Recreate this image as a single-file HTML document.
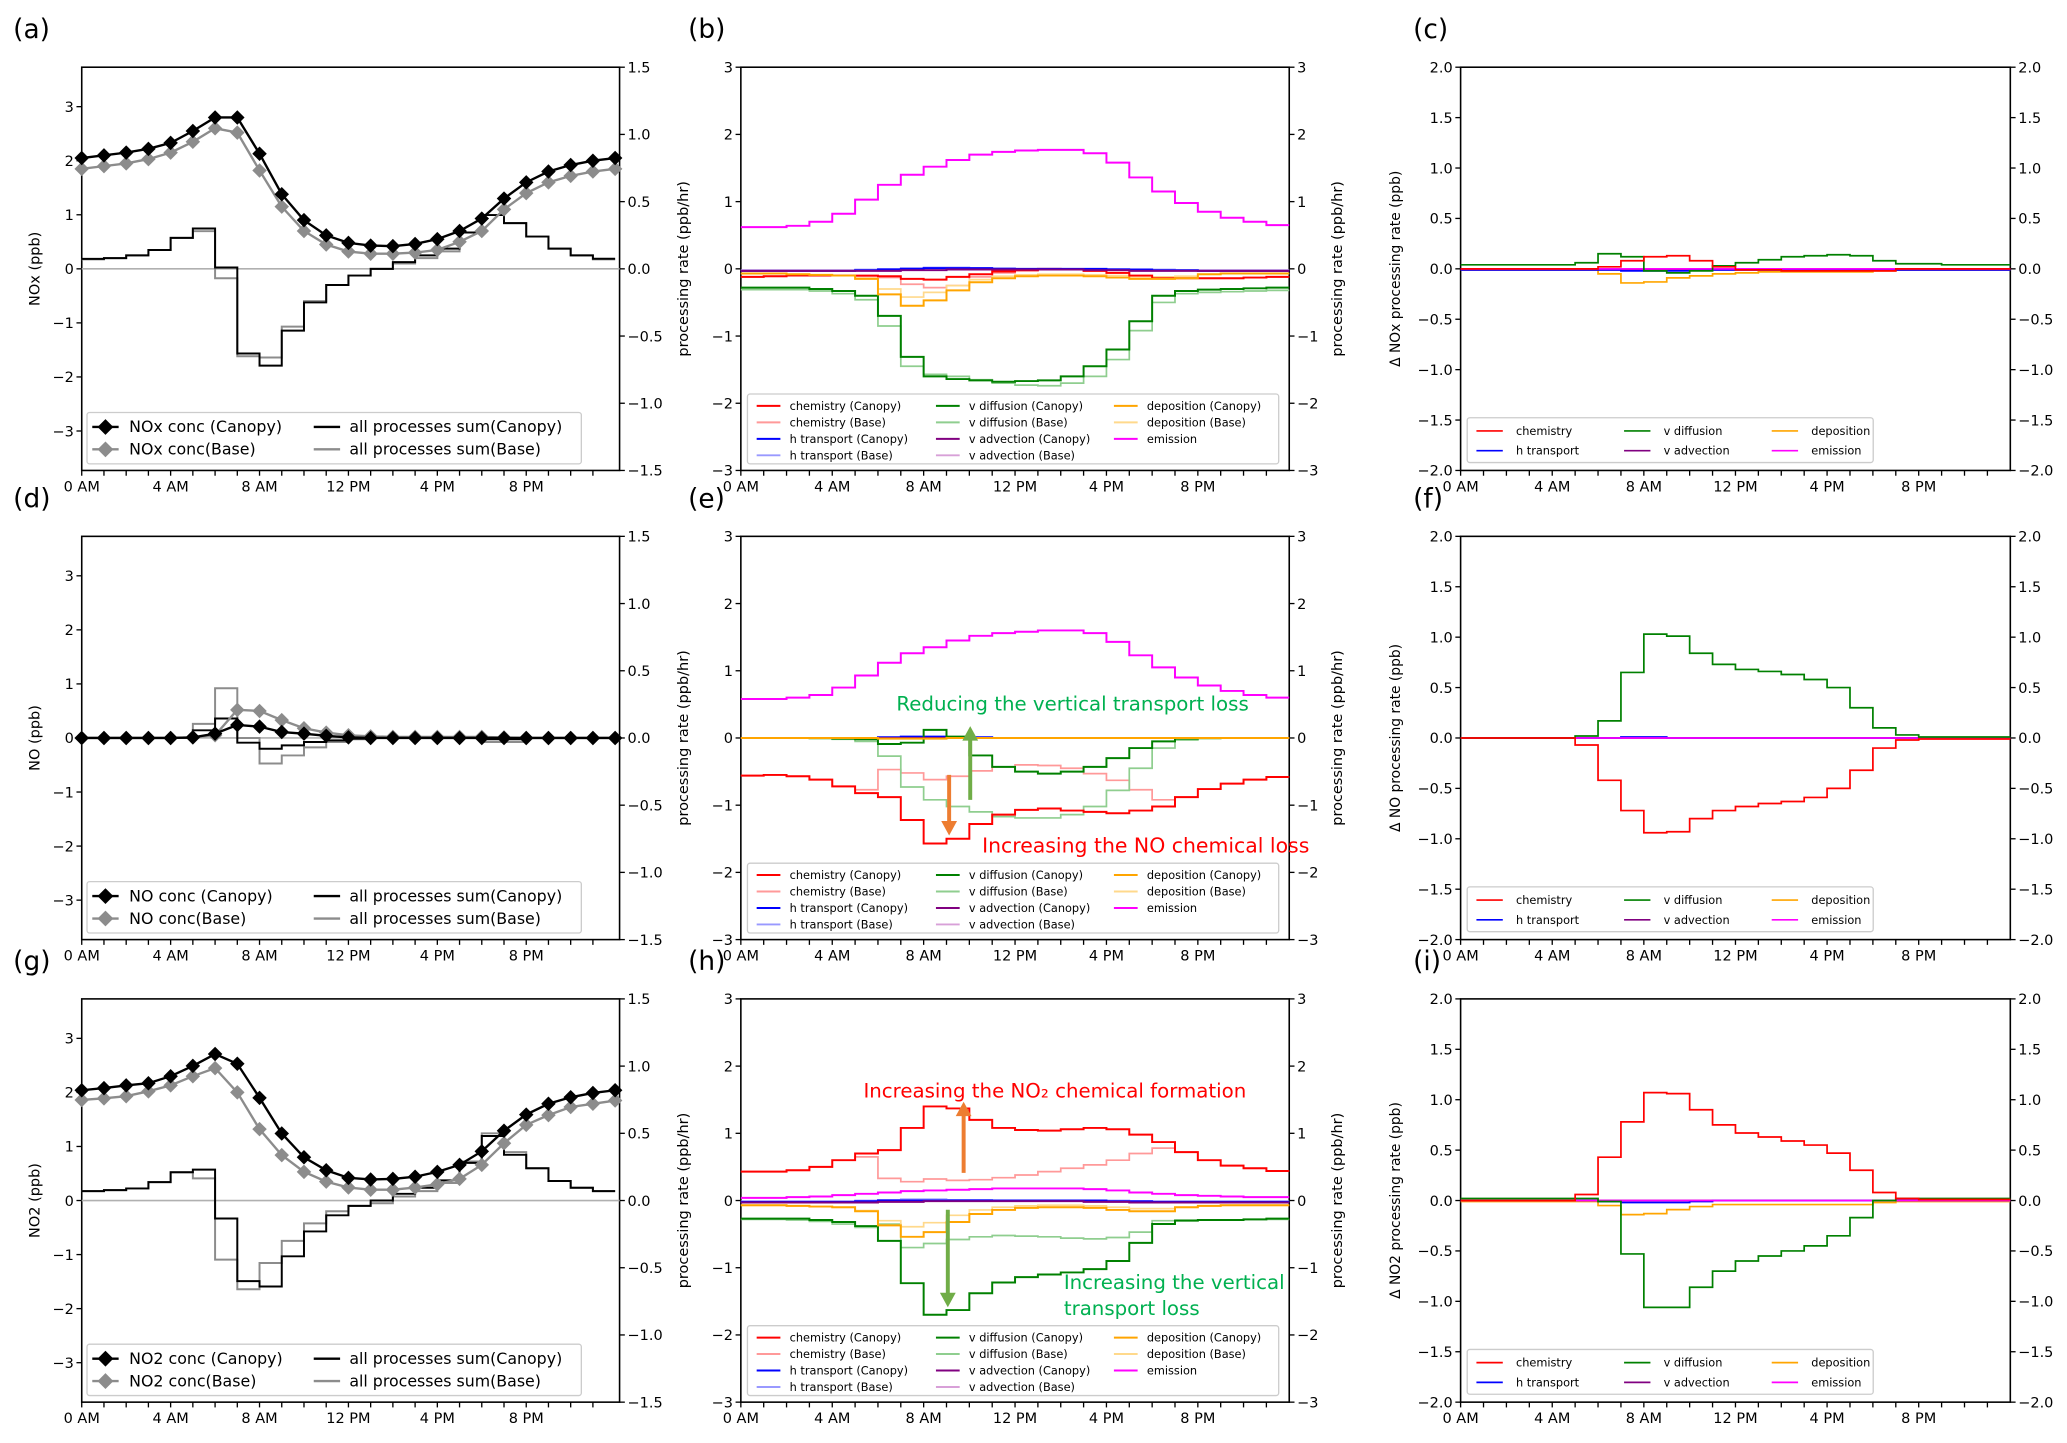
<!DOCTYPE html>
<html><head><meta charset="utf-8">
<style>
html,body{margin:0;padding:0;background:#fff;}
svg{display:block;}
text{font-family:"DejaVu Sans","Liberation Sans",sans-serif;}
</style></head>
<body>
<svg id="fig" xmlns="http://www.w3.org/2000/svg" width="2067" height="1443" viewBox="0 0 1568 1095" preserveAspectRatio="none"></svg>
<script>
// ---------- data ----------
const hourTicks = [0,4,8,12,16,20];
const hourTickLabels = ["0 AM","4 AM","8 AM","12 PM","4 PM","8 PM"];
// (a) NOx
const noxConcCanopy = [2.05,2.1,2.15,2.22,2.33,2.55,2.8,2.8,2.13,1.38,0.9,0.62,0.48,0.43,0.42,0.46,0.55,0.7,0.93,1.3,1.6,1.8,1.92,2.0,2.05];
const noxConcBase = [1.85,1.9,1.95,2.03,2.15,2.35,2.6,2.52,1.82,1.15,0.7,0.45,0.32,0.28,0.28,0.3,0.35,0.5,0.7,1.1,1.4,1.6,1.72,1.8,1.85];
const noxSumCanopy = [0.074,0.08,0.1,0.14,0.23,0.3,0.01,-0.63,-0.72,-0.46,-0.25,-0.12,-0.05,0.0,0.05,0.1,0.15,0.27,0.4,0.34,0.24,0.15,0.1,0.075];
const noxSumBase = [0.07,0.08,0.1,0.14,0.23,0.28,-0.07,-0.65,-0.66,-0.43,-0.24,-0.12,-0.05,0.0,0.04,0.08,0.13,0.27,0.4,0.34,0.24,0.15,0.1,0.07];
// (d) NO
const noConcCanopy = [0,0,0,0,0,0.01,0.08,0.24,0.21,0.11,0.08,0.04,0.01,0,0,0,0,0,0,0,0,0,0,0,0];
const noConcBase = [0,0,0,0,0,0.01,0.05,0.52,0.5,0.33,0.18,0.1,0.05,0.03,0.02,0.02,0.02,0.02,0.02,0.01,0,0,0,0,0];
const noSumCanopy = [0,0,0,0,0,0.057,0.145,-0.035,-0.08,-0.055,-0.03,-0.018,-0.005,0,0,0,0,0,-0.01,-0.01,0,0,0,0];
const noSumBase = [0,0,0,0,0,0.105,0.37,0.0,-0.19,-0.13,-0.07,-0.03,-0.01,0,0,0,0,0,-0.03,-0.03,0,0,0,0];
// (g) NO2
const no2ConcCanopy = [2.04,2.08,2.13,2.17,2.3,2.49,2.71,2.53,1.9,1.24,0.8,0.56,0.42,0.39,0.4,0.44,0.53,0.66,0.91,1.29,1.59,1.79,1.91,1.99,2.04];
const no2ConcBase = [1.86,1.89,1.93,2.02,2.13,2.3,2.45,2.0,1.32,0.84,0.53,0.35,0.24,0.2,0.2,0.24,0.3,0.4,0.66,1.06,1.4,1.58,1.73,1.79,1.85];
const no2SumCanopy = [0.07,0.077,0.09,0.137,0.21,0.23,-0.134,-0.6,-0.64,-0.415,-0.23,-0.11,-0.04,0,0.05,0.095,0.15,0.28,0.48,0.34,0.24,0.145,0.095,0.07];
const no2SumBase = [0.07,0.077,0.09,0.137,0.21,0.165,-0.44,-0.66,-0.465,-0.3,-0.17,-0.08,-0.04,-0.02,0.03,0.07,0.13,0.29,0.5,0.36,0.24,0.145,0.095,0.07];
// (b) NOx processes
const bChemC = [-0.12,-0.11,-0.1,-0.1,-0.1,-0.1,-0.11,-0.15,-0.16,-0.12,-0.08,-0.04,-0.02,0.0,-0.01,-0.03,-0.06,-0.1,-0.14,-0.14,-0.14,-0.14,-0.13,-0.12];
const bChemB = [-0.12,-0.11,-0.1,-0.1,-0.1,-0.11,-0.13,-0.23,-0.28,-0.25,-0.12,-0.06,-0.03,0.0,-0.01,-0.03,-0.06,-0.1,-0.14,-0.14,-0.14,-0.14,-0.13,-0.12];
const bHtrC = [-0.03,-0.03,-0.03,-0.03,-0.03,-0.02,-0.01,0.0,0.01,0.01,0.01,0.0,0.0,0.0,0.0,0.0,-0.01,-0.01,-0.02,-0.02,-0.03,-0.03,-0.03,-0.03];
const bHtrB = [-0.02,-0.02,-0.02,-0.02,-0.02,-0.01,0.0,0.01,0.02,0.02,0.01,0.01,0.0,0.0,0.0,0.0,0.0,-0.01,-0.01,-0.02,-0.02,-0.02,-0.02,-0.02];
const bVdiffC = [-0.28,-0.28,-0.28,-0.3,-0.33,-0.4,-0.7,-1.31,-1.6,-1.64,-1.66,-1.68,-1.67,-1.66,-1.6,-1.45,-1.2,-0.78,-0.4,-0.33,-0.31,-0.3,-0.29,-0.28];
const bVdiffB = [-0.31,-0.31,-0.31,-0.33,-0.37,-0.46,-0.85,-1.45,-1.57,-1.6,-1.65,-1.7,-1.73,-1.74,-1.7,-1.6,-1.35,-0.92,-0.5,-0.37,-0.35,-0.34,-0.33,-0.32];
const bVadvC = [-0.03,-0.03,-0.03,-0.03,-0.03,-0.03,-0.03,-0.02,-0.02,-0.01,-0.01,-0.01,-0.01,-0.01,-0.01,-0.02,-0.02,-0.03,-0.03,-0.03,-0.03,-0.03,-0.03,-0.03];
const bVadvB = [-0.02,-0.02,-0.02,-0.02,-0.02,-0.02,-0.02,-0.01,-0.01,-0.01,-0.01,-0.01,-0.01,-0.01,-0.01,-0.01,-0.02,-0.02,-0.02,-0.02,-0.02,-0.02,-0.02,-0.02];
const bDepC = [-0.07,-0.07,-0.08,-0.09,-0.1,-0.15,-0.38,-0.55,-0.47,-0.32,-0.2,-0.14,-0.11,-0.1,-0.1,-0.11,-0.13,-0.15,-0.15,-0.14,-0.08,-0.07,-0.07,-0.07];
const bDepB = [-0.07,-0.07,-0.08,-0.09,-0.1,-0.14,-0.3,-0.42,-0.35,-0.25,-0.16,-0.11,-0.09,-0.08,-0.08,-0.09,-0.1,-0.12,-0.12,-0.11,-0.08,-0.07,-0.07,-0.07];
const bEmis = [0.62,0.62,0.64,0.7,0.82,1.03,1.25,1.4,1.52,1.62,1.7,1.74,1.76,1.77,1.77,1.72,1.58,1.36,1.15,0.98,0.85,0.76,0.7,0.65];
// (e) NO processes
const eChemC = [-0.56,-0.55,-0.57,-0.62,-0.72,-0.82,-0.88,-1.22,-1.57,-1.5,-1.28,-1.14,-1.07,-1.05,-1.08,-1.1,-1.12,-1.08,-1.02,-0.88,-0.76,-0.68,-0.62,-0.58];
const eChemB = [-0.56,-0.55,-0.57,-0.62,-0.72,-0.77,-0.47,-0.52,-0.62,-0.57,-0.49,-0.43,-0.4,-0.41,-0.45,-0.53,-0.63,-0.77,-0.92,-0.88,-0.76,-0.68,-0.62,-0.58];
const eHtrC = [0,0,0,0,0,0,0.01,0.02,0.02,0.01,0.01,0,0,0,0,0,0,0,0,0,0,0,0,0];
const eHtrB = [0,0,0,0,0,0,0.01,0.01,0.01,0.01,0,0,0,0,0,0,0,0,0,0,0,0,0,0];
const eVdiffC = [0,0,0,0,-0.01,-0.02,-0.09,-0.07,0.12,0.02,-0.26,-0.43,-0.5,-0.53,-0.5,-0.43,-0.3,-0.15,-0.05,-0.01,0,0,0,0];
const eVdiffB = [0,0,0,-0.01,-0.02,-0.05,-0.27,-0.73,-0.92,-1.02,-1.1,-1.17,-1.19,-1.19,-1.14,-1.02,-0.78,-0.45,-0.15,-0.03,-0.01,0,0,0];
const eVadvC = [0,0,0,0,0,0,0,0,0,0,0,0,0,0,0,0,0,0,0,0,0,0,0,0];
const eVadvB = [0,0,0,0,0,0,0,0,0,0,0,0,0,0,0,0,0,0,0,0,0,0,0,0];
const eDepC = [0,0,0,0,0,0,-0.01,-0.01,-0.01,0,0,0,0,0,0,0,0,0,0,0,0,0,0,0];
const eDepB = [0,0,0,0,0,0,0,-0.01,0,0,0,0,0,0,0,0,0,0,0,0,0,0,0,0];
const eEmis = [0.58,0.58,0.6,0.64,0.75,0.93,1.12,1.26,1.35,1.45,1.52,1.56,1.58,1.6,1.6,1.56,1.43,1.23,1.05,0.9,0.78,0.7,0.64,0.6];
// (h) NO2 processes
const hChemC = [0.43,0.43,0.45,0.5,0.6,0.7,0.75,1.08,1.4,1.37,1.2,1.08,1.05,1.04,1.06,1.08,1.06,0.98,0.87,0.72,0.6,0.52,0.48,0.44];
const hChemB = [0.43,0.43,0.45,0.5,0.6,0.65,0.33,0.28,0.32,0.3,0.31,0.34,0.38,0.43,0.48,0.53,0.6,0.7,0.78,0.72,0.6,0.52,0.48,0.44];
const hHtrC = [-0.02,-0.02,-0.02,-0.02,-0.02,-0.01,0,0,0,0,0,0,0,0,0,0,-0.01,-0.01,-0.02,-0.02,-0.02,-0.02,-0.02,-0.02];
const hHtrB = [-0.01,-0.01,-0.01,-0.01,-0.01,0,0.01,0.02,0.02,0.01,0.01,0,0,0,0,0,0,-0.01,-0.01,-0.01,-0.01,-0.01,-0.01,-0.01];
const hVdiffC = [-0.27,-0.27,-0.27,-0.29,-0.32,-0.38,-0.6,-1.23,-1.7,-1.63,-1.38,-1.22,-1.14,-1.1,-1.07,-1.02,-0.9,-0.63,-0.35,-0.3,-0.29,-0.29,-0.28,-0.27];
const hVdiffB = [-0.28,-0.28,-0.29,-0.31,-0.35,-0.4,-0.35,-0.7,-0.64,-0.58,-0.54,-0.52,-0.53,-0.54,-0.56,-0.57,-0.55,-0.47,-0.3,-0.29,-0.29,-0.29,-0.28,-0.28];
const hVadvC = [-0.03,-0.03,-0.03,-0.03,-0.03,-0.03,-0.02,-0.02,-0.01,-0.01,-0.01,-0.01,-0.01,-0.01,-0.01,-0.02,-0.02,-0.03,-0.03,-0.03,-0.03,-0.03,-0.03,-0.03];
const hVadvB = [-0.02,-0.02,-0.02,-0.02,-0.02,-0.02,-0.01,-0.01,-0.01,-0.01,-0.01,-0.01,-0.01,-0.01,-0.01,-0.01,-0.02,-0.02,-0.02,-0.02,-0.02,-0.02,-0.02,-0.02];
const hDepC = [-0.07,-0.07,-0.08,-0.09,-0.1,-0.16,-0.37,-0.54,-0.47,-0.32,-0.2,-0.14,-0.11,-0.1,-0.1,-0.11,-0.14,-0.16,-0.16,-0.1,-0.08,-0.07,-0.07,-0.07];
const hDepB = [-0.07,-0.07,-0.08,-0.09,-0.1,-0.15,-0.3,-0.39,-0.33,-0.22,-0.14,-0.1,-0.08,-0.07,-0.07,-0.08,-0.1,-0.12,-0.12,-0.1,-0.08,-0.07,-0.07,-0.07];
const hEmis = [0.04,0.04,0.05,0.06,0.08,0.1,0.12,0.14,0.15,0.16,0.17,0.18,0.18,0.18,0.18,0.17,0.15,0.12,0.1,0.08,0.07,0.06,0.05,0.05];
// (c) delta NOx
const cChem = [0,0,0,0,0,0,0.02,0.08,0.12,0.13,0.08,0.02,-0.01,-0.01,-0.02,-0.02,-0.02,-0.02,-0.02,0,0,0,0,0];
const cHtr = [-0.01,-0.01,-0.01,-0.01,-0.01,-0.01,-0.01,-0.02,-0.02,-0.02,-0.01,-0.01,-0.01,-0.01,-0.01,-0.01,-0.01,-0.01,-0.01,-0.01,-0.01,-0.01,-0.01,-0.01];
const cVdiff = [0.04,0.04,0.04,0.04,0.04,0.06,0.15,0.12,-0.02,-0.04,-0.02,0.03,0.06,0.09,0.12,0.13,0.14,0.13,0.08,0.05,0.05,0.04,0.04,0.04];
const cVadv = [-0.01,-0.01,-0.01,-0.01,-0.01,-0.01,-0.01,-0.01,-0.01,-0.01,-0.01,-0.01,-0.01,-0.01,-0.01,-0.01,-0.01,-0.01,-0.01,-0.01,-0.01,-0.01,-0.01,-0.01];
const cDep = [-0.01,-0.01,-0.01,-0.01,-0.01,-0.01,-0.05,-0.14,-0.13,-0.09,-0.07,-0.05,-0.04,-0.03,-0.03,-0.03,-0.03,-0.03,-0.02,-0.01,-0.01,-0.01,-0.01,-0.01];
const cEmis = [0,0,0,0,0,0,0,0,0,0,0,0,0,0,0,0,0,0,0,0,0,0,0,0];
// (f) delta NO
const fChem = [0,0,0,0,0,-0.07,-0.42,-0.72,-0.94,-0.93,-0.8,-0.72,-0.68,-0.65,-0.63,-0.59,-0.5,-0.32,-0.1,-0.02,-0.01,-0.01,-0.01,-0.01];
const fHtr = [0,0,0,0,0,0,0,0.01,0.01,0,0,0,0,0,0,0,0,0,0,0,0,0,0,0];
const fVdiff = [0,0,0,0,0,0.02,0.17,0.65,1.03,1.01,0.84,0.73,0.68,0.66,0.63,0.58,0.5,0.3,0.1,0.03,0.01,0.01,0.01,0.01];
const fVadv = [0,0,0,0,0,0,0,0,0,0,0,0,0,0,0,0,0,0,0,0,0,0,0,0];
const fDep = [0,0,0,0,0,0,0,0,0,0,0,0,0,0,0,0,0,0,0,0,0,0,0,0];
const fEmis = [0,0,0,0,0,0,0,0,0,0,0,0,0,0,0,0,0,0,0,0,0,0,0,0];
// (i) delta NO2
const iChem = [0,0,0,0,0,0.06,0.43,0.78,1.07,1.06,0.9,0.75,0.67,0.63,0.59,0.55,0.47,0.3,0.08,0.02,0.01,0.01,0.01,0.01];
const iHtr = [0,0,0,0,0,0,-0.01,-0.02,-0.02,-0.02,-0.01,0,0,0,0,0,0,0,0,0,0,0,0,0];
const iVdiff = [0.02,0.02,0.02,0.02,0.02,0.02,-0.01,-0.53,-1.06,-1.06,-0.86,-0.7,-0.6,-0.55,-0.5,-0.45,-0.35,-0.17,0.0,0.02,0.02,0.02,0.02,0.02];
const iVadv = [0,0,0,0,0,0,0,0,0,0,0,0,0,0,0,0,0,0,0,0,0,0,0,0];
const iDep = [-0.01,-0.01,-0.01,-0.01,-0.01,-0.01,-0.05,-0.14,-0.13,-0.09,-0.06,-0.04,-0.04,-0.04,-0.04,-0.04,-0.04,-0.04,-0.02,-0.01,-0.01,-0.01,-0.01,-0.01];
const iEmis = [0,0,0,0,0,0,0,0,0,0,0,0,0,0,0,0,0,0,0,0,0,0,0,0];

// ---------- drawing ----------
const NS = "http://www.w3.org/2000/svg";
const svg = document.getElementById("fig");
function mk(parent, tag, attrs, name, inter) {
  const el = document.createElementNS(NS, tag);
  for (const k in attrs) el.setAttribute(k, attrs[k]);
  
  
  parent.appendChild(el);
  return el;
}
function txt(parent, x, y, s, size, anchor, name, extra) {
  const t = mk(parent, "text", Object.assign({x: x, y: y, "font-size": size, "text-anchor": anchor || "start", fill: "#000"}, extra || {}), name, false);
  t.textContent = s;
  return t;
}
const COLS = [{x: 62, w: 408}, {x: 562, w: 416}, {x: 1108, w: 417}];
const ROWS = [51, 407, 758];
const H = 306;
function fmt(v, dec) {
  const s = Math.abs(v).toFixed(dec);
  return (v < 0 ? "\u2212" : "") + s;
}
function axesFrame(g, x0, y0, w, xmax, leftTicks, leftDom, leftDec, rightTicks, rightDom, rightDec) {
  mk(g, "rect", {x: x0, y: y0, width: w, height: H, fill: "none", stroke: "#000", "stroke-width": 1.2}, "axes-frame", false);
  const xs = h => x0 + h / xmax * w;
  for (let h = 0; h < 24; h++) {
    mk(g, "line", {x1: xs(h), x2: xs(h), y1: y0 + H, y2: y0 + H + 4, stroke: "#000", "stroke-width": 1}, "x-tick", false);
  }
  hourTicks.forEach((h, i) => txt(g, xs(h), y0 + H + 16, hourTickLabels[i], 11, "middle", "x-tick-label"));
  const yl = v => y0 + H / 2 - v / leftDom * (H / 2);
  leftTicks.forEach(v => {
    mk(g, "line", {x1: x0 - 4, x2: x0, y1: yl(v), y2: yl(v), stroke: "#000"}, "y-tick", false);
    txt(g, x0 - 6, yl(v) + 4, fmt(v, leftDec), 11, "end", "y-tick-label");
  });
  const yr = v => y0 + H / 2 - v / rightDom * (H / 2);
  rightTicks.forEach(v => {
    mk(g, "line", {x1: x0 + w, x2: x0 + w + 4, y1: yr(v), y2: yr(v), stroke: "#000"}, "y2-tick", false);
    txt(g, x0 + w + 6, yr(v) + 4, fmt(v, rightDec), 11, "start", "y2-tick-label");
  });
  return {xs: xs, yl: yl, yr: yr};
}
function stepPath(vals, xs, ys, xmax) {
  let d = "M" + xs(0) + "," + ys(vals[0]);
  for (let i = 0; i < vals.length; i++) {
    const xe = xs(Math.min(i + 1, xmax));
    d += " H" + xe;
    if (i + 1 < vals.length) d += " V" + ys(vals[i + 1]);
  }
  return d;
}
function diamond(g, cx, cy, r, fill, name) {
  mk(g, "path", {d: `M${cx},${cy - r} L${cx + r},${cy} L${cx},${cy + r} L${cx - r},${cy} Z`, fill: fill}, name, false);
}

// conc panels
const concPanels = [
  {row: 0, lab: "(a)", sp: "NOx", ylab: "NOx (ppb)", cc: noxConcCanopy, cb: noxConcBase, sc: noxSumCanopy, sb: noxSumBase},
  {row: 1, lab: "(d)", sp: "NO", ylab: "NO (ppb)", cc: noConcCanopy, cb: noConcBase, sc: noSumCanopy, sb: noSumBase},
  {row: 2, lab: "(g)", sp: "NO2", ylab: "NO2 (ppb)", cc: no2ConcCanopy, cb: no2ConcBase, sc: no2SumCanopy, sb: no2SumBase}
];
concPanels.forEach(p => {
  const g = mk(svg, "g", {}, "panel-" + p.lab.replace(/[()]/g, ""), false);
  const x0 = COLS[0].x, w = COLS[0].w, y0 = ROWS[p.row], xmax = 24.2;
  txt(g, 10, y0 - 22, p.lab, 20, "start", "panel-label", {"font-family": "Liberation Sans, sans-serif"});
  const ax = axesFrame(g, x0, y0, w, xmax, [-3,-2,-1,0,1,2,3], 3.73, 0, [-1.5,-1,-0.5,0,0.5,1,1.5], 1.5, 1);
  txt(g, 0, 0, p.ylab, 11, "middle", "y-axis-title", {transform: `translate(30,${y0 + H / 2}) rotate(-90)`});
  txt(g, 0, 0, "processing rate (ppb/hr)", 11, "middle", "y2-axis-title", {transform: `translate(522,${y0 + H / 2}) rotate(-90)`});
  mk(g, "line", {x1: x0, x2: x0 + w, y1: ax.yr(0), y2: ax.yr(0), stroke: "#b0b0b0", "stroke-width": 1.2}, "zero-line", false);
  mk(g, "path", {d: stepPath(p.sb, ax.xs, ax.yr, xmax), fill: "none", stroke: "#8c8c8c", "stroke-width": 1.5}, "sum-base-line", false);
  mk(g, "path", {d: stepPath(p.sc, ax.xs, ax.yr, xmax), fill: "none", stroke: "#000", "stroke-width": 1.5}, "sum-canopy-line", false);
  mk(g, "polyline", {points: p.cb.map((v, i) => ax.xs(i) + "," + ax.yl(v)).join(" "), fill: "none", stroke: "#8c8c8c", "stroke-width": 1.8}, "conc-base-line", false);
  p.cb.forEach((v, i) => diamond(g, ax.xs(i), ax.yl(v), 5.5, "#8c8c8c", "conc-base-point"));
  mk(g, "polyline", {points: p.cc.map((v, i) => ax.xs(i) + "," + ax.yl(v)).join(" "), fill: "none", stroke: "#000", "stroke-width": 1.8}, "conc-canopy-line", false);
  p.cc.forEach((v, i) => diamond(g, ax.xs(i), ax.yl(v), 5.5, "#000", "conc-canopy-point"));
  // legend
  const lg = mk(g, "g", {}, "legend", false);
  const ly = y0 + H - 44;
  mk(lg, "rect", {x: x0 + 4, y: ly, width: 375, height: 39, fill: "#fff", "fill-opacity": 0.85, stroke: "#ccc", rx: 2}, "legend-box", false);
  mk(lg, "line", {x1: x0 + 8, x2: x0 + 28, y1: ly + 11, y2: ly + 11, stroke: "#000", "stroke-width": 1.8}, "legend-swatch", false);
  diamond(lg, x0 + 18, ly + 11, 6, "#000", "legend-marker");
  txt(lg, x0 + 36, ly + 15, p.sp + " conc (Canopy)", 12, "start", "legend-entry");
  mk(lg, "line", {x1: x0 + 8, x2: x0 + 28, y1: ly + 28, y2: ly + 28, stroke: "#8c8c8c", "stroke-width": 1.8}, "legend-swatch", false);
  diamond(lg, x0 + 18, ly + 28, 6, "#8c8c8c", "legend-marker");
  txt(lg, x0 + 36, ly + 32, p.sp + " conc(Base)", 12, "start", "legend-entry");
  mk(lg, "line", {x1: x0 + 176, x2: x0 + 196, y1: ly + 11, y2: ly + 11, stroke: "#000", "stroke-width": 1.8}, "legend-swatch", false);
  txt(lg, x0 + 203, ly + 15, "all processes sum(Canopy)", 12, "start", "legend-entry");
  mk(lg, "line", {x1: x0 + 176, x2: x0 + 196, y1: ly + 28, y2: ly + 28, stroke: "#8c8c8c", "stroke-width": 1.8}, "legend-swatch", false);
  txt(lg, x0 + 203, ly + 32, "all processes sum(Base)", 12, "start", "legend-entry");
});

// process panels
const procNames = ["chemistry (Canopy)","chemistry (Base)","h transport (Canopy)","h transport (Base)","v diffusion (Canopy)","v diffusion (Base)","v advection (Canopy)","v advection (Base)","deposition (Canopy)","deposition (Base)","emission"];
const procColors = ["#ff0000","#ff9999","#0000ff","#9999ff","#008000","#8fce8f","#800080","#d8a0d8","#ffa500","#ffd98c","#ff00ff"];
const procPanels = [
  {row: 0, lab: "(b)", series: [bChemC,bChemB,bHtrC,bHtrB,bVdiffC,bVdiffB,bVadvC,bVadvB,bDepC,bDepB,bEmis]},
  {row: 1, lab: "(e)", series: [eChemC,eChemB,eHtrC,eHtrB,eVdiffC,eVdiffB,eVadvC,eVadvB,eDepC,eDepB,eEmis]},
  {row: 2, lab: "(h)", series: [hChemC,hChemB,hHtrC,hHtrB,hVdiffC,hVdiffB,hVadvC,hVadvB,hDepC,hDepB,hEmis]}
];
const drawOrder = [1,3,5,7,9,0,2,4,6,8,10];
procPanels.forEach(p => {
  const g = mk(svg, "g", {}, "panel-" + p.lab.replace(/[()]/g, ""), false);
  const x0 = COLS[1].x, w = COLS[1].w, y0 = ROWS[p.row];
  txt(g, 522, y0 - 22, p.lab, 20, "start", "panel-label", {"font-family": "Liberation Sans, sans-serif"});
  const ax = axesFrame(g, x0, y0, w, 24, [-3,-2,-1,0,1,2,3], 3, 0, [-3,-2,-1,0,1,2,3], 3, 0);
  txt(g, 0, 0, "processing rate (ppb/hr)", 11, "middle", "y2-axis-title", {transform: `translate(1018,${y0 + H / 2}) rotate(-90)`});
  drawOrder.forEach(k => {
    mk(g, "path", {d: stepPath(p.series[k], ax.xs, ax.yl, 24), fill: "none", stroke: procColors[k], "stroke-width": k % 2 === 0 || k === 10 ? 1.5 : 1.3}, "series-" + procNames[k].replace(/[()]/g, "").trim().replace(/\s+/g, "-").toLowerCase(), false);
  });
  const lg = mk(g, "g", {}, "legend", false);
  const ly = y0 + H - 58;
  mk(lg, "rect", {x: x0 + 5, y: ly, width: 403, height: 53, fill: "#fff", "fill-opacity": 0.85, stroke: "#ccc", rx: 2}, "legend-box", false);
  const colX = [x0 + 12, x0 + 148, x0 + 283];
  procNames.forEach((n, k) => {
    const c = Math.floor(k / 4), r = k % 4;
    const yy = ly + 9 + r * 12.5;
    mk(lg, "line", {x1: colX[c], x2: colX[c] + 18, y1: yy, y2: yy, stroke: procColors[k], "stroke-width": 1.5}, "legend-swatch", false);
    txt(lg, colX[c] + 25, yy + 3, n, 8.6, "start", "legend-entry");
  });
});

// delta panels
const dNames = ["chemistry","h transport","v diffusion","v advection","deposition","emission"];
const dColors = ["#ff0000","#0000ff","#008000","#800080","#ffa500","#ff00ff"];
const dPanels = [
  {row: 0, lab: "(c)", ylab: "\u0394 NOx processing rate (ppb)", series: [cChem,cHtr,cVdiff,cVadv,cDep,cEmis]},
  {row: 1, lab: "(f)", ylab: "\u0394 NO processing rate (ppb)", series: [fChem,fHtr,fVdiff,fVadv,fDep,fEmis]},
  {row: 2, lab: "(i)", ylab: "\u0394 NO2 processing rate (ppb)", series: [iChem,iHtr,iVdiff,iVadv,iDep,iEmis]}
];
dPanels.forEach(p => {
  const g = mk(svg, "g", {}, "panel-" + p.lab.replace(/[()]/g, ""), false);
  const x0 = COLS[2].x, w = COLS[2].w, y0 = ROWS[p.row];
  txt(g, 1072, y0 - 22, p.lab, 20, "start", "panel-label", {"font-family": "Liberation Sans, sans-serif"});
  const t = [-2,-1.5,-1,-0.5,0,0.5,1,1.5,2];
  const ax = axesFrame(g, x0, y0, w, 24, t, 2, 1, t, 2, 1);
  txt(g, 0, 0, p.ylab, 10.5, "middle", "y-axis-title", {transform: `translate(1062,${y0 + H / 2}) rotate(-90)`});
  [4,3,1,5,2,0].forEach(k => {
    mk(g, "path", {d: stepPath(p.series[k], ax.xs, ax.yl, 24), fill: "none", stroke: dColors[k], "stroke-width": 1.3}, "series-" + dNames[k].replace(/\s+/g, "-"), false);
  });
  const lg = mk(g, "g", {}, "legend", false);
  const ly = y0 + H - 40;
  mk(lg, "rect", {x: x0 + 5, y: ly, width: 308, height: 34, fill: "#fff", "fill-opacity": 0.85, stroke: "#ccc", rx: 2}, "legend-box", false);
  const colX = [x0 + 12, x0 + 124, x0 + 236];
  dNames.forEach((n, k) => {
    const c = Math.floor(k / 2), r = k % 2;
    const yy = ly + 10 + r * 15;
    mk(lg, "line", {x1: colX[c], x2: colX[c] + 20, y1: yy, y2: yy, stroke: dColors[k], "stroke-width": 1.3}, "legend-swatch", false);
    txt(lg, colX[c] + 30, yy + 3, n, 8.6, "start", "legend-entry");
  });
});

// annotations
function arrow(g, x, y1, y2, color, name) {
  const dir = y2 > y1 ? 1 : -1;
  mk(g, "line", {x1: x, x2: x, y1: y1, y2: y2 - dir * 10, stroke: color, "stroke-width": 3}, name + "-shaft", false);
  mk(g, "path", {d: `M${x - 6},${y2 - dir * 11} L${x + 6},${y2 - dir * 11} L${x},${y2} Z`, fill: color}, name + "-head", false);
}
const an = mk(svg, "g", {}, "annotations", false);
const AF = {"font-family": "Liberation Sans, sans-serif"};
txt(an, 680, 539, "Reducing the vertical transport loss", 15, "start", "annotation-reducing-vertical-transport", Object.assign({fill: "#00b050"}, AF));
txt(an, 745, 647, "Increasing the NO chemical loss", 15.5, "start", "annotation-increasing-no-chemical-loss", Object.assign({fill: "#ff0000"}, AF));
arrow(an, 720, 588, 634, "#ed7d31", "arrow-orange-e");
arrow(an, 736, 607, 551, "#70ad47", "arrow-green-e");
txt(an, 655, 833, "Increasing the NO\u2082 chemical formation", 15, "start", "annotation-increasing-no2-formation", Object.assign({fill: "#ff0000"}, AF));
txt(an, 807, 978, "Increasing the vertical", 15, "start", "annotation-increasing-vertical-transport", Object.assign({fill: "#00b050"}, AF));
txt(an, 807, 998, "transport loss", 15, "start", "annotation-transport-loss", Object.assign({fill: "#00b050"}, AF));
arrow(an, 731, 890, 836, "#ed7d31", "arrow-orange-h");
arrow(an, 719, 918, 992, "#70ad47", "arrow-green-h");
</script>
</body></html>
